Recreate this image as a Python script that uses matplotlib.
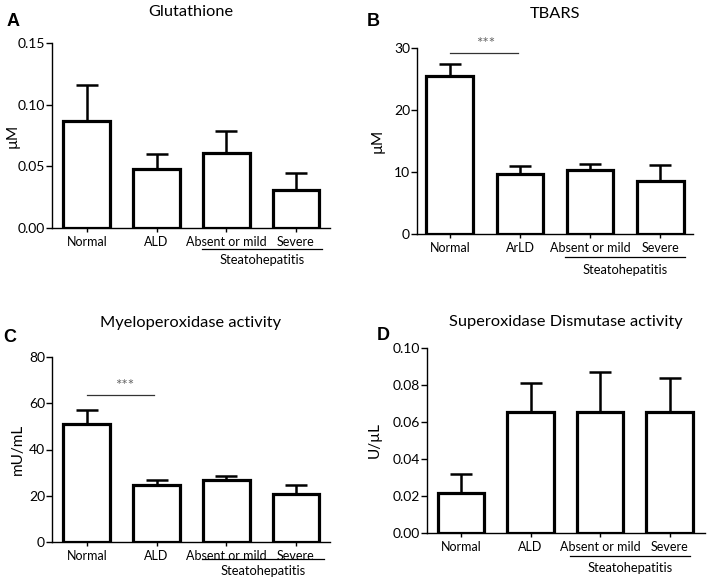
import matplotlib.pyplot as plt
import numpy as np

plt.rcParams["font.family"] = ["Lato", "DejaVu Sans"]

groups_a = ["Normal", "ALD", "Absent or mild", "Severe"]
groups_b = ["Normal", "ArLD", "Absent or mild", "Severe"]

glutathione_mean = [0.087, 0.048, 0.061, 0.031]
glutathione_top = [0.116, 0.060, 0.079, 0.045]

tbars_mean = [25.5, 9.7, 10.4, 8.5]
tbars_top = [27.4, 10.9, 11.3, 11.1]

mpo_mean = [51.0, 24.8, 26.6, 20.6]
mpo_top = [57.2, 26.9, 28.6, 24.7]

sod_mean = [0.0215, 0.0655, 0.0655, 0.0655]
sod_top = [0.0318, 0.081, 0.0868, 0.0840]

W, H = 709, 581


def rect(left, right, top, bottom):
    return [left / W, 1 - bottom / H, (right - left) / W, (bottom - top) / H]


def draw_panel(fig, box, letter, letter_xy, title, labels, means, tops, ylim, yticks,
               ylabel, ylabel_x, xlim, title_y, steato, sig=None):
    ax = fig.add_axes(box)
    x = np.arange(len(means))
    means = np.array(means)
    errs = np.array(tops) - means
    ax.bar(x, means, width=0.67, color="white", edgecolor="black", linewidth=2.3, zorder=2)
    ax.errorbar(x, means, yerr=[np.zeros_like(errs), errs], fmt="none", ecolor="black",
                elinewidth=1.8, capsize=8, capthick=1.8, zorder=1)
    ax.set_xlim(*xlim)
    ax.set_ylim(*ylim)
    ax.set_yticks(yticks)
    if ylim[1] < 1:
        ax.set_yticklabels([f"{t:.2f}" for t in yticks])
    ax.set_xticks(x)
    ax.set_xticklabels(labels, fontsize=9)
    ax.spines["top"].set_visible(False)
    ax.spines["right"].set_visible(False)
    ax.spines["left"].set_linewidth(1.0)
    ax.spines["bottom"].set_linewidth(1.0)
    ax.tick_params(axis="y", labelsize=10, length=4, width=1, pad=1)
    ax.tick_params(axis="x", length=3, width=1, pad=3)
    ax.set_ylabel(ylabel, fontsize=11)
    ax.yaxis.set_label_coords(ylabel_x, 0.5)
    ax.set_title(title, fontsize=11.8, y=title_y, pad=0)

    # bracket under the two steatohepatitis groups
    x0, x1, line_y, text_y = steato
    ax.plot([x0, x1], [line_y, line_y], color="black", lw=0.9,
            transform=ax.get_xaxis_transform(), clip_on=False)
    ax.text((x0 + x1) / 2, text_y, "Steatohepatitis", ha="center", va="top", fontsize=9.3,
            transform=ax.get_xaxis_transform())

    if sig is not None:
        sig_y, star_x = sig
        ax.plot([0.0, 0.97], [sig_y, sig_y], color="#333333", lw=0.9)
        ax.text(star_x, sig_y + (ylim[1] - ylim[0]) * 0.01, "***", ha="center", va="bottom",
                fontsize=11, color="#666666")

    fig.text(letter_xy[0] / W, 1 - letter_xy[1] / H, letter, fontsize=13,
             fontweight="bold", family="Liberation Sans", ha="left", va="center")
    return ax


fig = plt.figure(figsize=(7.09, 5.81), dpi=100)

draw_panel(fig, rect(52, 330, 43, 228), "A", (7, 22), "Glutathione", groups_a,
           glutathione_mean, glutathione_top, (0, 0.15), [0.0, 0.05, 0.10, 0.15], "µM",
           -0.115, (-0.5, 3.49), 1.146, (1.66, 3.37, -0.114, -0.14))

draw_panel(fig, rect(417, 693, 48, 234), "B", (367, 21.5), "TBARS", groups_b,
           tbars_mean, tbars_top, (0, 30), [0, 10, 20, 30], "µM",
           -0.116, (-0.47, 3.47), 1.16, (1.64, 3.36, -0.124, -0.162), sig=(29.2, 0.51))

draw_panel(fig, rect(52, 330, 357, 542), "C", (3, 338), "Myeloperoxidase activity", groups_a,
           mpo_mean, mpo_top, (0, 80), [0, 20, 40, 60, 80], "mU/mL",
           -0.097, (-0.5, 3.49), 1.16, (1.66, 3.4, -0.092, -0.122), sig=(63.6, 0.54))

draw_panel(fig, rect(427, 705, 348, 533), "D", (377, 336), "Superoxidase Dismutase activity",
           groups_a, sod_mean, sod_top, (0, 0.10), [0.0, 0.02, 0.04, 0.06, 0.08, 0.10], "U/µL",
           -0.162, (-0.49, 3.51), 1.12, (1.57, 3.3, -0.124, -0.155))

fig.savefig("out.png", dpi=100)
